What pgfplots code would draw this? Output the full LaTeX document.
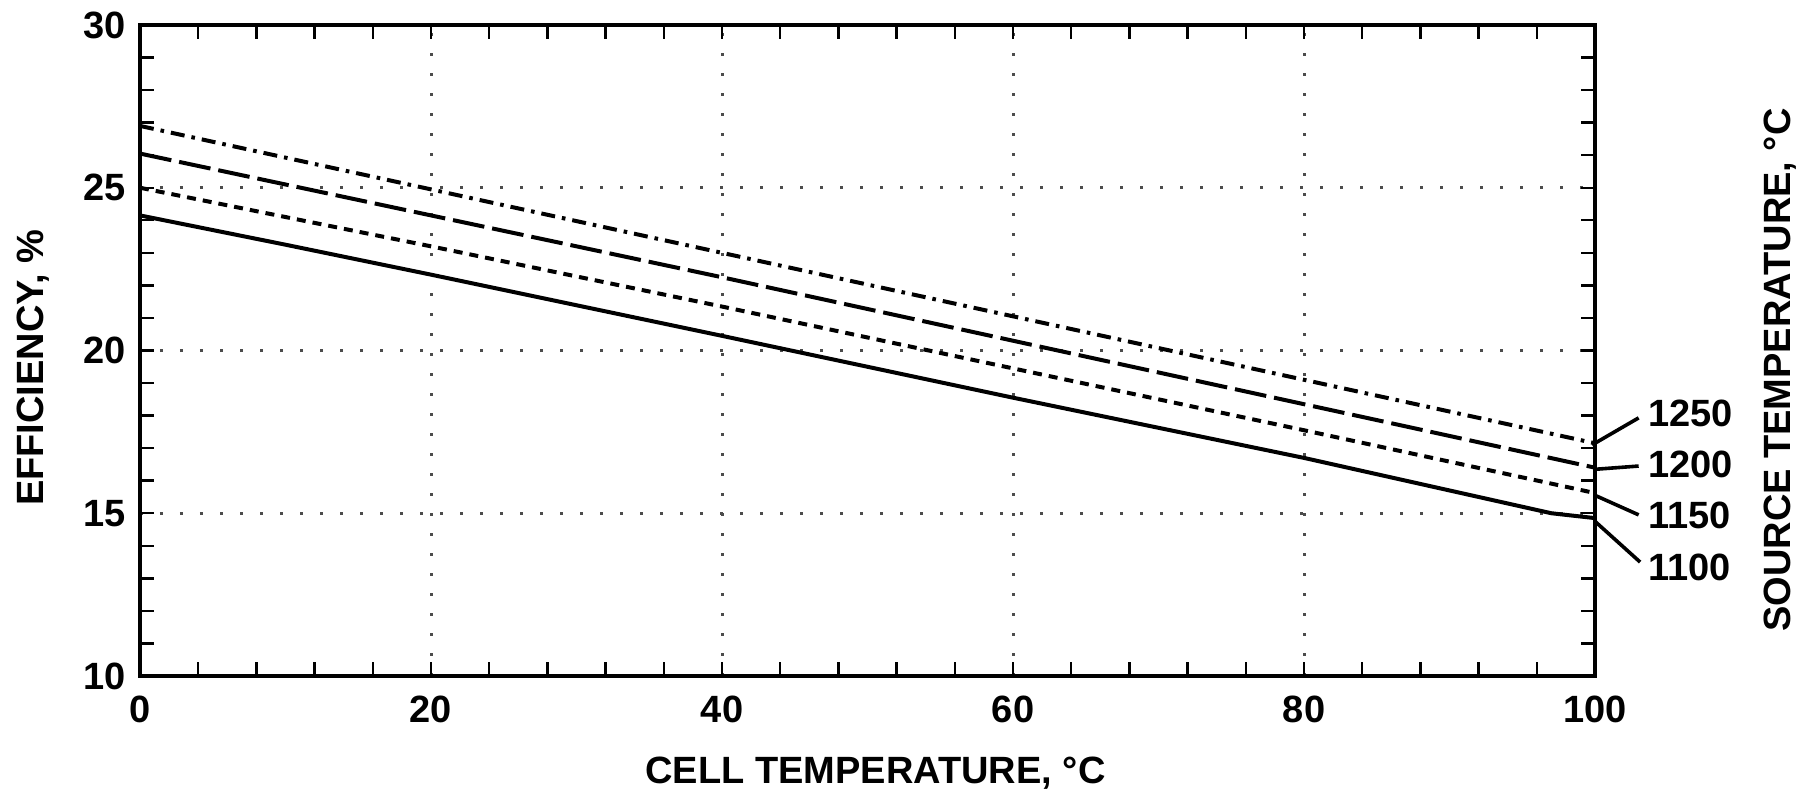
\documentclass[border=0pt]{standalone}
\usepackage{fontspec}
\setmainfont{Liberation Sans}
\usepackage{pgfplots}
\pgfplotsset{compat=1.18}

\begin{document}
\begin{tikzpicture}
\begin{axis}[
    scale only axis,
    width=727.5pt, height=325.5pt,
    xmin=0, xmax=100,
    ymin=10, ymax=30,
    xtick={0,20,40,60,80,100},
    ytick={10,15,20,25,30},
    minor x tick num=4,
    minor y tick num=4,
    tick align=inside,
    major tick length=7pt,
    minor tick length=7pt,
    every tick/.style={black, line width=1.2pt},
    axis line style={line width=2.2pt},
    grid=major,
    major grid style={black!70, line width=1.5pt, dash pattern=on 1.5pt off 8.5pt},
    /pgf/number format/assume math mode=true,
    ticklabel style={font=\fontsize{19}{22}\selectfont\bfseries},
    xticklabel style={yshift=-6.7pt},
    yticklabel style={xshift=-3.5pt},
    label style={font=\fontsize{19}{22}\selectfont\bfseries},
    xlabel={CELL TEMPERATURE, °C},
    ylabel={EFFICIENCY, \%},
    xlabel style={at={(axis description cs:0.5,0)}, anchor=north, yshift=-37pt, xshift=4pt},
    % ylabel is rotated, so the shifts act in its own frame
    ylabel style={at={(axis description cs:0,0.5)}, anchor=center, xshift=-8.5pt, yshift=53.5pt},
    clip=false,
]

% 1100 C source
\addplot[black, line width=2pt] coordinates {
(0,24.15) (10,23.25) (20,22.33) (40,20.45) (60,18.55) (80,16.7) (97,15.0) (100,14.85)
};
% 1150 C source
\addplot[black, line width=2pt, dash pattern=on 4.5pt off 3.5pt] coordinates {
(0,25.0) (20,23.2) (40,21.35) (60,19.45) (80,17.55) (100,15.62)
};
% 1200 C source
\addplot[black, line width=2pt, dash pattern=on 16pt off 4pt] coordinates {
(0,26.05) (20,24.15) (40,22.25) (60,20.3) (80,18.35) (100,16.4)
};
% 1250 C source
\addplot[black, line width=2pt, dash pattern=on 7pt off 3.5pt on 1.8pt off 3.5pt] coordinates {
(0,26.9) (20,24.95) (40,23.0) (60,21.05) (80,19.1) (100,17.15)
};

% leader lines and source temperature labels
\draw[line width=1.8pt] (axis cs:99.8,17.1) -- (axis cs:103.0,17.93);
\draw[line width=1.8pt] (axis cs:100,16.35) -- (axis cs:103.0,16.45);
\draw[line width=1.8pt] (axis cs:100,15.55) -- (axis cs:103.0,14.95);
\draw[line width=1.8pt] (axis cs:100,14.75) -- (axis cs:103.1,13.5);
\tikzset{srclab/.style={anchor=west, inner sep=1pt, font=\fontsize{19}{22}\selectfont\bfseries}}
\node[srclab] at (axis cs:103.5,18.08) {1250};
\node[srclab] at (axis cs:103.5,16.51) {1200};
\node[srclab] at (axis cs:103.5,14.92) {1150};
\node[srclab] at (axis cs:103.5,13.35) {1100};
\node[rotate=90, font=\fontsize{19}{22}\selectfont\bfseries] at (axis cs:112.7,19.4) {SOURCE TEMPERATURE, °C};

\end{axis}
\pgfresetboundingbox
\path[use as bounding box] ([shift={(-70pt,-62.5pt)}]current axis.south west) rectangle ([shift={(104.5pt,12.5pt)}]current axis.north east);
\end{tikzpicture}
\end{document}
